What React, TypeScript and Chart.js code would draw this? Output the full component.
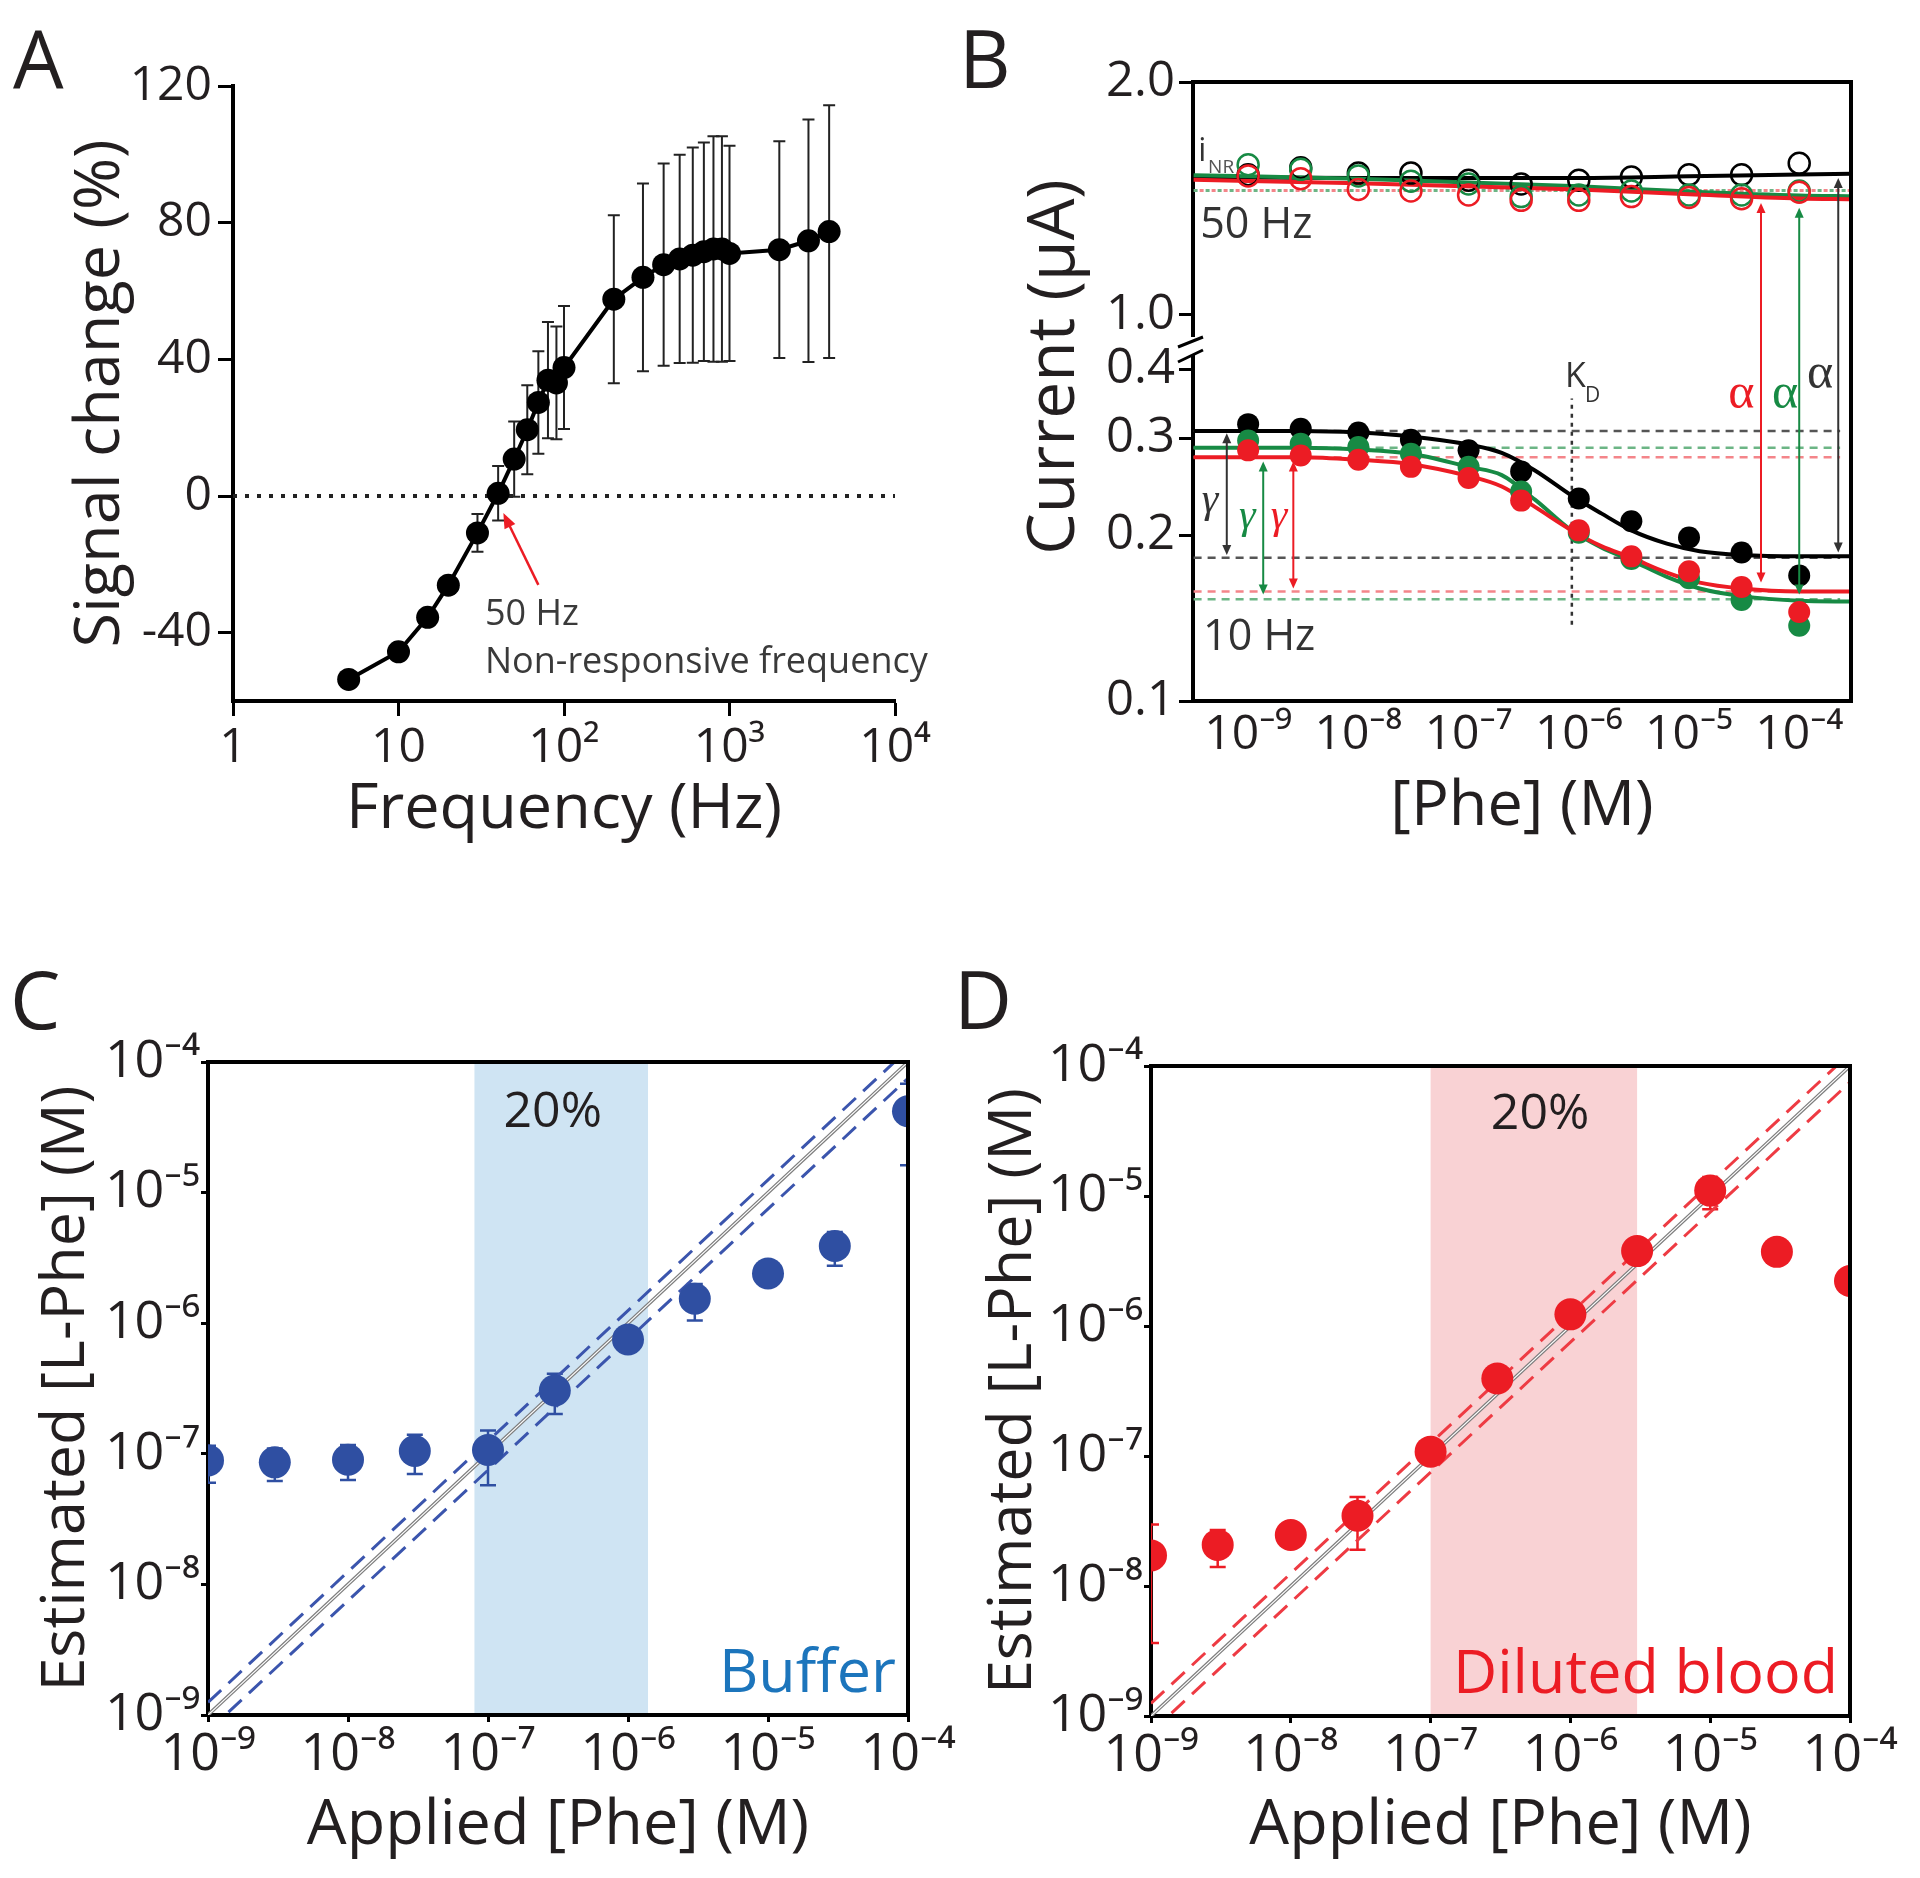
import React, { useEffect, useRef } from "react";
import { Chart, registerables } from "chart.js";

Chart.register(...registerables);

const FONT = '"Open Sans", "Noto Sans", "DejaVu Sans", sans-serif';
const SERIF = '"Liberation Serif", "DejaVu Serif", serif';
const INK = "#231f20";
const RED = "#ec1c24";
const GREEN = "#178a44";
const BLACK = "#000000";

// ================= Panel A data =================
const freqA = [5, 10, 15, 20, 30, 40, 50, 60, 70, 80, 90, 100, 200, 300, 400, 500, 600, 700, 800, 900, 1000, 2000, 3000, 4000];
const signalA = [-53.7, -45.6, -35.5, -26.1, -10.8, 0.8, 10.8, 19.4, 27.4, 33.9, 33.1, 37.6, 57.6, 64.0, 67.7, 69.4, 70.5, 71.5, 72.3, 72.3, 71.0, 72.1, 74.7, 77.4];
const errA = [2, 2, 2, 2.5, 5.5, 8, 11, 13, 15, 17, 16.5, 18, 24.6, 27.5, 29.6, 30.5, 31.5, 32, 33, 33, 31.5, 31.7, 35.5, 37];
const freqTicksA = [1, 10, 100, 1000, 10000];
const signalTicksA = [-40, 0, 40, 80, 120];
const zeroLineXA = [1, 10000];
const zeroLineYA = [0, 0];
const arrowFromA = [70, -26];
const arrowToA = [43, -5];

// ================= Panel B data =================
const concB = [1e-9, 3e-9, 1e-8, 3e-8, 1e-7, 3e-7, 1e-6, 3e-6, 1e-5, 3e-5, 1e-4];
const i10Black = [0.318, 0.312, 0.307, 0.298, 0.285, 0.261, 0.233, 0.212, 0.198, 0.186, 0.169];
const i10Green = [0.297, 0.293, 0.289, 0.281, 0.266, 0.240, 0.202, 0.181, 0.167, 0.1525, 0.137];
const i10Red = [0.285, 0.279, 0.274, 0.266, 0.254, 0.231, 0.204, 0.183, 0.172, 0.161, 0.145];
const i50Black = [1.602, 1.632, 1.609, 1.609, 1.578, 1.562, 1.578, 1.592, 1.602, 1.602, 1.651];
const i50Green = [1.645, 1.625, 1.597, 1.574, 1.562, 1.508, 1.515, 1.532, 1.515, 1.515, 1.532];
const i50Red = [1.597, 1.585, 1.539, 1.532, 1.515, 1.492, 1.492, 1.508, 1.504, 1.499, 1.527];
const fitXB = [3.2e-10, 1e-9, 3e-9, 1e-8, 3e-8, 1e-7, 2e-7, 4e-7, 8.6e-7, 1.6e-6, 3e-6, 6.3e-6, 1.25e-5, 3e-5, 1e-4, 3e-4];
const fit10Black = [0.309, 0.309, 0.309, 0.307, 0.302, 0.292, 0.282, 0.262, 0.236, 0.219, 0.204, 0.193, 0.187, 0.184, 0.183, 0.183];
const fit10Green = [0.288, 0.288, 0.288, 0.286, 0.281, 0.266, 0.257, 0.232, 0.204, 0.190, 0.180, 0.168, 0.160, 0.155, 0.152, 0.1515];
const fit10Red = [0.277, 0.277, 0.277, 0.274, 0.269, 0.256, 0.245, 0.225, 0.204, 0.191, 0.182, 0.171, 0.164, 0.160, 0.158, 0.158];
const fitTopXB = [3.2e-10, 1e-8, 1e-6, 1e-5, 1e-4, 3e-4];
const fit50Black = [1.592, 1.588, 1.588, 1.595, 1.603, 1.606];
const fit50Green = [1.600, 1.585, 1.552, 1.530, 1.513, 1.510];
const fit50Red = [1.580, 1.565, 1.538, 1.518, 1.500, 1.497];
const plateauXB = [3.2e-10, 2.35e-4];
const plateauBlack = [0.309, 0.182];
const plateauGreen = [0.288, 0.153];
const plateauRed = [0.277, 0.158];
const topDotXB = [3.2e-10, 3e-4];
const topDotB = 1.534;
const kdXB = 8.65e-7;
const kdSpanB = [0.1375, 0.354];
const xTicksB = [1e-9, 1e-8, 1e-7, 1e-6, 1e-5, 1e-4];
const yTopTicksB = [1.0, 2.0];
const yBotTicksB = [0.1, 0.2, 0.3, 0.4];
// alpha arrows: x, top value (50 Hz axis), bottom value (10 Hz axis)
const alphaXB = [4.5e-5, 1.0e-4, 2.26e-4];
const alphaTopB = [1.481, 1.46, 1.588];
const alphaBotB = [0.164, 0.156, 0.186];
// gamma arrows
const gammaXB = [6.4e-10, 1.37e-9, 2.57e-9];
const gammaTopB = [0.306, 0.272, 0.272];
const gammaBotB = [0.184, 0.156, 0.160];

// ================= Panels C / D data =================
const concCD = [1e-9, 3e-9, 1e-8, 3e-8, 1e-7, 3e-7, 1e-6, 3e-6, 1e-5, 3e-5, 1e-4];
const estC = [8.9e-8, 8.6e-8, 9.0e-8, 1.05e-7, 1.07e-7, 3.05e-7, 7.5e-7, 1.54e-6, 2.4e-6, 3.9e-6, 4.2e-5];
const estCLow = [6.0e-8, 6.2e-8, 6.3e-8, 7.0e-8, 5.75e-8, 2.02e-7, 6.5e-7, 1.05e-6, 2.2e-6, 2.75e-6, 1.62e-5];
const estCHigh = [1.15e-7, 1.1e-7, 1.17e-7, 1.4e-7, 1.51e-7, 4.1e-7, 8.5e-7, 2.0e-6, 2.6e-6, 5.0e-6, 6.8e-5];
const estD = [1.72e-8, 2.07e-8, 2.47e-8, 3.47e-8, 1.08e-7, 3.95e-7, 1.23e-6, 3.77e-6, 1.1e-5, 3.72e-6, 2.22e-6];
const estDLow = [3.65e-9, 1.4e-8, 2.1e-8, 1.9e-8, 9e-8, 3.3e-7, 1.0e-6, 3.2e-6, 7.9e-6, 3.4e-6, 2.0e-6];
const estDHigh = [2.97e-8, 2.7e-8, 2.85e-8, 4.84e-8, 1.25e-7, 4.6e-7, 1.45e-6, 4.3e-6, 1.4e-5, 4.0e-6, 2.4e-6];
const shadeC = [8.0e-8, 1.39e-6];
const shadeD = [1.0e-7, 3.0e-6];
const diagX = [1e-9, 1e-4];
const diagY = [1e-9, 1e-4];
const diagUpperY = [1.25e-9, 1.25e-4];
const diagLowerY = [7.5e-10, 7.5e-5];
const decadeTicksCD = [1e-9, 1e-8, 1e-7, 1e-6, 1e-5, 1e-4];

// ================= helpers =================
const SUP: Record<string, string> = { "0": "⁰", "1": "¹", "2": "²", "3": "³", "4": "⁴", "5": "⁵", "6": "⁶", "7": "⁷", "8": "⁸", "9": "⁹", "-": "⁻" };
const pow10 = (v: number) => {
  const e = Math.round(Math.log10(v));
  if (e === 0) return "1";
  if (e === 1) return "10";
  return "10" + String(e).split("").map((c) => SUP[c]).join("");
};
const pts = (xs: number[], ys: number[]) => xs.map((x, i) => ({ x, y: ys[i] }));
const hline = (xr: number[], y: number) => [{ x: xr[0], y }, { x: xr[1], y }];

function axis(o: any) {
  return {
    type: o.type,
    min: o.min,
    max: o.max,
    position: o.position,
    stack: o.stack,
    stackWeight: o.stackWeight,
    afterBuildTicks: (s: any) => {
      s.ticks = o.ticks.map((v: number) => ({ value: v }));
    },
    afterFit: (s: any) => {
      if (o.horizontal) s.height = o.size;
      else s.width = o.size;
    },
    ticks: {
      callback: (v: any) => o.fmt(Number(v)),
      font: { family: FONT, size: o.fontSize },
      color: INK,
      padding: o.labelPad,
      autoSkip: false,
      maxRotation: 0,
      minRotation: 0,
    },
    grid: {
      display: o.gridShow !== false,
      drawOnChartArea: false,
      drawTicks: true,
      tickLength: o.tickLen,
      tickWidth: 3,
      tickColor: "#000",
    },
    border: { display: true, color: "#000", width: 4 },
    title: o.title
      ? {
          display: true,
          text: o.title,
          color: INK,
          font: { family: FONT, size: o.titleSize || 62 },
          padding: o.horizontal ? { top: 0, bottom: o.titlePad } : { top: o.titlePad, bottom: 0 },
        }
      : { display: false },
  };
}

function drawArrow(ctx: any, x1: number, y1: number, x2: number, y2: number, color: string, lw: number, startHead: boolean, endHead: boolean, hl = 11, hw = 5) {
  ctx.save();
  ctx.strokeStyle = color;
  ctx.fillStyle = color;
  ctx.lineWidth = lw;
  const a = Math.atan2(y2 - y1, x2 - x1);
  const sx = startHead ? x1 + Math.cos(a) * hl * 0.7 : x1;
  const sy = startHead ? y1 + Math.sin(a) * hl * 0.7 : y1;
  const ex = endHead ? x2 - Math.cos(a) * hl * 0.7 : x2;
  const ey = endHead ? y2 - Math.sin(a) * hl * 0.7 : y2;
  ctx.beginPath();
  ctx.moveTo(sx, sy);
  ctx.lineTo(ex, ey);
  ctx.stroke();
  const head = (x: number, y: number, ang: number) => {
    ctx.beginPath();
    ctx.moveTo(x, y);
    ctx.lineTo(x - hl * Math.cos(ang) + hw * Math.sin(ang), y - hl * Math.sin(ang) - hw * Math.cos(ang));
    ctx.lineTo(x - hl * Math.cos(ang) - hw * Math.sin(ang), y - hl * Math.sin(ang) + hw * Math.cos(ang));
    ctx.closePath();
    ctx.fill();
  };
  if (endHead) head(x2, y2, a);
  if (startHead) head(x1, y1, a + Math.PI);
  ctx.restore();
}

function text(ctx: any, s: string, x: number, y: number, font: string, color: string, align = "left", baseline = "alphabetic") {
  ctx.save();
  ctx.font = font;
  ctx.fillStyle = color;
  ctx.textAlign = align;
  ctx.textBaseline = baseline;
  ctx.fillText(s, x, y);
  ctx.restore();
}

function frame(chart: any) {
  const { ctx, chartArea: a } = chart;
  ctx.save();
  ctx.strokeStyle = "#000";
  ctx.lineWidth = 4;
  ctx.beginPath();
  ctx.moveTo(a.left - 2, a.top);
  ctx.lineTo(a.right + 2, a.top);
  ctx.moveTo(a.right, a.top);
  ctx.lineTo(a.right, a.bottom + 2);
  ctx.stroke();
  ctx.restore();
}

const baseOptions = (padding: any) => ({
  responsive: false,
  maintainAspectRatio: false,
  animation: false,
  devicePixelRatio: 1,
  events: [],
  layout: { padding },
  plugins: { legend: { display: false }, tooltip: { enabled: false } },
});

// ================= Panel A =================
function makeA() {
  const plugin = {
    id: "annA",
    beforeDatasetsDraw(chart: any) {
      const { ctx, scales } = chart;
      const xs = scales.x, ys = scales.y;
      ctx.save();
      ctx.strokeStyle = "#222";
      ctx.lineWidth = 2;
      freqA.forEach((f, i) => {
        const x = xs.getPixelForValue(f);
        const yt = ys.getPixelForValue(signalA[i] + errA[i]);
        const yb = ys.getPixelForValue(signalA[i] - errA[i]);
        ctx.beginPath();
        ctx.moveTo(x, yt);
        ctx.lineTo(x, yb);
        ctx.moveTo(x - 6, yt);
        ctx.lineTo(x + 6, yt);
        ctx.moveTo(x - 6, yb);
        ctx.lineTo(x + 6, yb);
        ctx.stroke();
      });
      ctx.restore();
    },
    afterDatasetsDraw(chart: any) {
      const { ctx, scales } = chart;
      const xs = scales.x, ys = scales.y;
      drawArrow(ctx, xs.getPixelForValue(arrowFromA[0]), ys.getPixelForValue(arrowFromA[1]), xs.getPixelForValue(arrowToA[0]), ys.getPixelForValue(arrowToA[1]), RED, 2.5, false, true, 15, 6);
      const tx = xs.getPixelForValue(33.3);
      text(ctx, "50 Hz", tx, ys.getPixelForValue(-37.7), `36px ${FONT}`, "#3a3a3a");
      text(ctx, "Non-responsive frequency", tx, ys.getPixelForValue(-51.8), `36px ${FONT}`, "#3a3a3a");
    },
  };
  return {
    type: "scatter",
    data: {
      datasets: [
        {
          data: pts(freqA, signalA),
          showLine: true,
          borderColor: BLACK,
          borderWidth: 4,
          pointRadius: 11.5,
          pointBackgroundColor: BLACK,
          pointBorderWidth: 0,
          clip: false,
        },
        {
          data: pts(zeroLineXA, zeroLineYA),
          showLine: true,
          borderColor: "#222",
          borderWidth: 4,
          borderDash: [4, 8],
          pointRadius: 0,
        },
      ],
    },
    options: {
      ...baseOptions({ left: 0, top: 86, right: 65, bottom: 0 }),
      scales: {
        x: axis({ type: "logarithmic", min: 1, max: 10000, position: "bottom", ticks: freqTicksA, fmt: pow10, horizontal: true, size: 159, fontSize: 48, tickLen: 15, labelPad: 4, title: "Frequency (Hz)", titlePad: 12, titleSize: 63 }),
        y: axis({ type: "linear", min: -60, max: 120, position: "left", ticks: signalTicksA, fmt: (v: number) => String(v), horizontal: false, size: 233, fontSize: 48, tickLen: 15, labelPad: 6, title: "Signal change (%)", titlePad: 63, titleSize: 63 }),
      },
    },
    plugins: [plugin],
  };
}

// ================= Panel B =================
function makeB() {
  const filled = (ys: number[], color: string) => ({ data: pts(concB, ys), yAxisID: "yb", showLine: false, pointRadius: 11, pointBackgroundColor: color, pointBorderColor: color, pointBorderWidth: 0 });
  const open = (ys: number[], color: string) => ({ data: pts(concB, ys), yAxisID: "yt", showLine: false, pointRadius: 10.5, pointBackgroundColor: "rgba(255,255,255,0)", pointBorderColor: color, pointBorderWidth: 2.5 });
  const curve = (xs: number[], ys: number[], color: string, ax: string) => ({ data: pts(xs, ys), yAxisID: ax, showLine: true, pointRadius: 0, borderColor: color, borderWidth: 4, cubicInterpolationMode: "monotone" });
  const dashed = (data: any[], color: string, ax: string, dash: number[], w = 2.5) => ({ data, yAxisID: ax, showLine: true, pointRadius: 0, borderColor: color, borderWidth: w, borderDash: dash });

  const plugin = {
    id: "annB",
    afterDatasetsDraw(chart: any) {
      const { ctx, scales } = chart;
      const xs = scales.x, yt = scales.yt, yb = scales.yb;
      const cols = [RED, GREEN, "#333"];
      alphaXB.forEach((x, i) => {
        const px = xs.getPixelForValue(x);
        drawArrow(ctx, px, yt.getPixelForValue(alphaTopB[i]), px, yb.getPixelForValue(alphaBotB[i]), cols[i], 2, true, true, 10, 4.5);
      });
      const gcols = ["#333", GREEN, RED];
      gammaXB.forEach((x, i) => {
        const px = xs.getPixelForValue(x);
        drawArrow(ctx, px, yb.getPixelForValue(gammaTopB[i]), px, yb.getPixelForValue(gammaBotB[i]), gcols[i], 2, true, true, 10, 4.5);
      });
      // greek labels
      text(ctx, "γ", xs.getPixelForValue(4.5e-10), yb.getPixelForValue(0.2307), `italic 42px ${SERIF}`, "#333", "center", "middle");
      text(ctx, "γ", xs.getPixelForValue(9.8e-10), yb.getPixelForValue(0.2158), `italic 42px ${SERIF}`, GREEN, "center", "middle");
      text(ctx, "γ", xs.getPixelForValue(1.91e-9), yb.getPixelForValue(0.2158), `italic 42px ${SERIF}`, RED, "center", "middle");
      text(ctx, "α", xs.getPixelForValue(2.98e-5), yb.getPixelForValue(0.3592), `50px ${SERIF}`, RED, "center", "middle");
      text(ctx, "α", xs.getPixelForValue(7.46e-5), yb.getPixelForValue(0.3592), `50px ${SERIF}`, GREEN, "center", "middle");
      text(ctx, "α", xs.getPixelForValue(1.55e-4), yb.getPixelForValue(0.3906), `50px ${SERIF}`, "#333", "center", "middle");
      // K_D
      text(ctx, "K", xs.getPixelForValue(7.5e-7), yb.getPixelForValue(0.3714), `34px ${FONT}`, "#333");
      text(ctx, "D", xs.getPixelForValue(1.14e-6), yb.getPixelForValue(0.349), `21px ${FONT}`, "#333");
      // i_NR, 50 Hz, 10 Hz
      text(ctx, "i", xs.getPixelForValue(3.52e-10), yt.getPixelForValue(1.661), `32px ${FONT}`, "#333");
      text(ctx, "NR", xs.getPixelForValue(4.33e-10), yt.getPixelForValue(1.609), `19px ${FONT}`, "#555");
      text(ctx, "50 Hz", xs.getPixelForValue(3.67e-10), yt.getPixelForValue(1.33), `43px ${FONT}`, "#333");
      text(ctx, "10 Hz", xs.getPixelForValue(3.9e-10), yb.getPixelForValue(0.1238), `43px ${FONT}`, "#333");
    },
    afterDraw(chart: any) {
      const { ctx, chartArea: a, scales } = chart;
      frame(chart);
      // axis break
      const yBreak = scales.yt.bottom;
      ctx.save();
      ctx.fillStyle = "#fff";
      ctx.fillRect(a.left - 4, yBreak - 8, 8, 18);
      ctx.strokeStyle = "#000";
      ctx.lineWidth = 3;
      ctx.beginPath();
      ctx.moveTo(a.left - 15, yBreak + 2);
      ctx.lineTo(a.left + 10, yBreak - 8);
      ctx.moveTo(a.left - 15, yBreak + 17);
      ctx.lineTo(a.left + 10, yBreak + 5);
      ctx.stroke();
      ctx.restore();
      // y title
      ctx.save();
      ctx.translate(95, 367);
      ctx.rotate(-Math.PI / 2);
      text(ctx, "Current (μA)", 0, 0, `66px ${FONT}`, INK, "center", "middle");
      ctx.restore();
    },
  };

  return {
    type: "scatter",
    data: {
      datasets: [
        filled(i10Red, RED),
        filled(i10Green, GREEN),
        filled(i10Black, BLACK),
        open(i50Red, RED),
        open(i50Green, GREEN),
        open(i50Black, BLACK),
        curve(fitXB, fit10Red, RED, "yb"),
        curve(fitXB, fit10Green, GREEN, "yb"),
        curve(fitXB, fit10Black, BLACK, "yb"),
        curve(fitTopXB, fit50Red, RED, "yt"),
        curve(fitTopXB, fit50Green, GREEN, "yt"),
        curve(fitTopXB, fit50Black, BLACK, "yt"),
        dashed(hline(plateauXB, plateauBlack[0]), "#555", "yb", [8, 6]),
        dashed(hline(plateauXB, plateauBlack[1]), "#555", "yb", [8, 6]),
        dashed(hline(plateauXB, plateauGreen[0]), "#6cb585", "yb", [8, 6]),
        dashed(hline(plateauXB, plateauGreen[1]), "#6cb585", "yb", [8, 6]),
        dashed(hline(plateauXB, plateauRed[0]), "#f4858a", "yb", [8, 6]),
        dashed(hline(plateauXB, plateauRed[1]), "#f4858a", "yb", [8, 6]),
        dashed(hline(topDotXB, topDotB), "#6cb585", "yt", [4, 8], 3),
        { ...dashed(hline(topDotXB, topDotB), "#f4858a", "yt", [4, 8], 3), borderDashOffset: 6 },
        dashed([{ x: kdXB, y: kdSpanB[0] }, { x: kdXB, y: kdSpanB[1] }], "#333", "yb", [4, 5], 2.5),
      ],
    },
    options: {
      ...baseOptions({ left: 0, top: 82, right: 69, bottom: 0 }),
      scales: {
        x: axis({ type: "logarithmic", min: 3.16e-10, max: 2.95e-4, position: "bottom", ticks: xTicksB, fmt: pow10, horizontal: true, size: 159, fontSize: 48, tickLen: 4, labelPad: 2, gridShow: false, title: "[Phe] (M)", titlePad: 15, titleSize: 63 }),
        yb: axis({ type: "logarithmic", min: 0.1, max: 0.4426, position: "left", stack: "b", stackWeight: 356, ticks: yBotTicksB, fmt: (v: number) => v.toFixed(1), horizontal: false, size: 233, fontSize: 49, tickLen: 14, labelPad: 4 }),
        yt: axis({ type: "linear", min: 0.871, max: 2.0, position: "left", stack: "b", stackWeight: 263, ticks: yTopTicksB, fmt: (v: number) => v.toFixed(1), horizontal: false, size: 233, fontSize: 49, tickLen: 14, labelPad: 4 }),
      },
    },
    plugins: [plugin],
  };
}

// ================= Panels C / D =================
function makeCD(p: any) {
  const plugin = {
    id: "annCD",
    beforeDraw(chart: any) {
      const { ctx, chartArea: a, scales } = chart;
      const x1 = scales.x.getPixelForValue(p.shade[0]);
      const x2 = scales.x.getPixelForValue(p.shade[1]);
      ctx.save();
      ctx.fillStyle = p.shadeColor;
      ctx.fillRect(x1, a.top, x2 - x1, a.bottom - a.top);
      ctx.restore();
    },
    beforeDatasetsDraw(chart: any) {
      const { ctx, chartArea: a, scales } = chart;
      ctx.save();
      ctx.beginPath();
      ctx.rect(a.left, a.top, a.right - a.left, a.bottom - a.top);
      ctx.clip();
      ctx.strokeStyle = p.color;
      ctx.lineWidth = 2.5;
      concCD.forEach((c, i) => {
        const x = scales.x.getPixelForValue(c);
        const y1 = scales.y.getPixelForValue(p.high[i]);
        const y2 = scales.y.getPixelForValue(p.low[i]);
        ctx.beginPath();
        ctx.moveTo(x, y1);
        ctx.lineTo(x, y2);
        ctx.moveTo(x - 8, y1);
        ctx.lineTo(x + 8, y1);
        ctx.moveTo(x - 8, y2);
        ctx.lineTo(x + 8, y2);
        ctx.stroke();
      });
      ctx.restore();
    },
    afterDatasetsDraw(chart: any) {
      const { ctx, chartArea: a, scales } = chart;
      text(ctx, "20%", scales.x.getPixelForValue(p.pctX), scales.y.getPixelForValue(p.pctY), `50px ${FONT}`, INK, "center", "middle");
      text(ctx, p.label, a.right - 12, a.bottom - 23, `61px ${FONT}`, p.labelColor, "right", "alphabetic");
    },
    afterDraw(chart: any) {
      frame(chart);
    },
  };
  return {
    type: "scatter",
    data: {
      datasets: [
        { data: pts(concCD, p.est), showLine: false, pointRadius: 16, pointBackgroundColor: p.color, pointBorderWidth: 0, clip: 0 },
        { data: pts(diagX, diagY), showLine: true, pointRadius: 0, borderColor: "#ffffff", borderWidth: 1.2, clip: 0 },
        { data: pts(diagX, diagY), showLine: true, pointRadius: 0, borderColor: "#7d7d7d", borderWidth: 3.5, clip: 0 },
        { data: pts(diagX, diagUpperY), showLine: true, pointRadius: 0, borderColor: p.dashColor, borderWidth: 3, borderDash: [18, 10], clip: 0 },
        { data: pts(diagX, diagLowerY), showLine: true, pointRadius: 0, borderColor: p.dashColor, borderWidth: 3, borderDash: [18, 10], clip: 0 },
      ],
    },
    options: {
      ...baseOptions({ left: 0, top: p.padTop, right: p.padRight, bottom: 0 }),
      scales: {
        x: axis({ type: "logarithmic", min: 1e-9, max: 1e-4, position: "bottom", ticks: decadeTicksCD, fmt: pow10, horizontal: true, size: p.xHeight, fontSize: 52, tickLen: 7, labelPad: 2, title: "Applied [Phe] (M)", titlePad: 14, titleSize: 63 }),
        y: axis({ type: "logarithmic", min: 1e-9, max: 1e-4, position: "left", ticks: decadeTicksCD, fmt: pow10, horizontal: false, size: p.yWidth, fontSize: 52, tickLen: 7, labelPad: 1, title: "Estimated [L-Phe] (M)", titlePad: p.yTitlePad, titleSize: 61 }),
      },
    },
    plugins: [plugin],
  };
}

function ChartBox({ left, top, width, height, make }: any) {
  const ref = useRef<HTMLCanvasElement>(null);
  useEffect(() => {
    const chart = new Chart(ref.current as HTMLCanvasElement, make());
    return () => chart.destroy();
  }, []);
  return <canvas ref={ref} width={width} height={height} style={{ position: "absolute", left, top, width, height }} />;
}

const letterStyle = (left: number, top: number): any => ({
  position: "absolute",
  left,
  top,
  fontFamily: FONT,
  fontSize: 80,
  lineHeight: "80px",
  color: INK,
  margin: 0,
});

export default function App() {
  return (
    <div style={{ position: "absolute", left: 0, top: 0, width: 1920, height: 1878, background: "#fff", overflow: "hidden" }}>
      <ChartBox left={0} top={0} width={960} height={860} make={makeA} />
      <ChartBox left={960} top={0} width={960} height={860} make={makeB} />
      <ChartBox
        left={0}
        top={860}
        width={960}
        height={1018}
        make={() =>
          makeCD({
            est: estC, low: estCLow, high: estCHigh, shade: shadeC, color: "#2f4fa2", dashColor: "#3b55ad", shadeColor: "#cfe4f3",
            label: "Buffer", labelColor: "#1c75bc", pctX: 2.9e-7, pctY: 4.1e-5, padTop: 202, padRight: 52, xHeight: 163, yWidth: 208, yTitlePad: 30,
          })
        }
      />
      <ChartBox
        left={960}
        top={860}
        width={960}
        height={1018}
        make={() =>
          makeCD({
            est: estD, low: estDLow, high: estDHigh, shade: shadeD, color: RED, dashColor: "#ee3b43", shadeColor: "#f9d2d4",
            label: "Diluted blood", labelColor: RED, pctX: 6.07e-7, pctY: 4.2e-5, padTop: 206, padRight: 70, xHeight: 162, yWidth: 191, yTitlePad: 17,
          })
        }
      />
      <div style={letterStyle(13, 17)}>A</div>
      <div style={letterStyle(959, 17)}>B</div>
      <div style={letterStyle(10, 958)}>C</div>
      <div style={letterStyle(954, 958)}>D</div>
    </div>
  );
}
